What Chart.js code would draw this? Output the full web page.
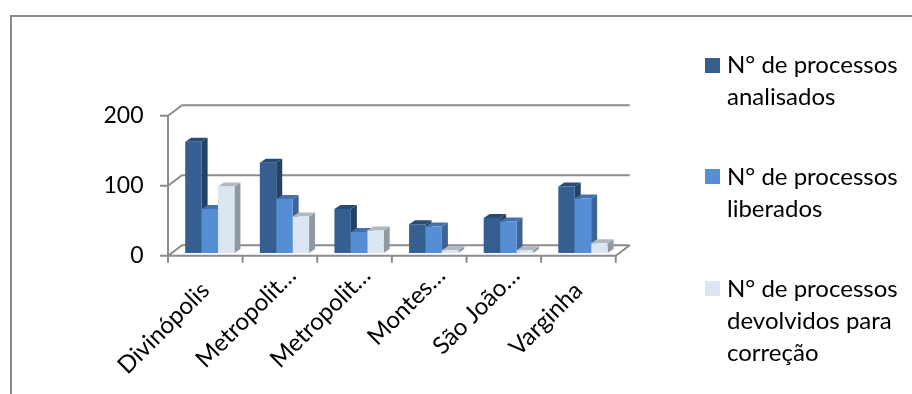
<!DOCTYPE html>
<html>
<head>
<meta charset="utf-8">
<style>html,body{margin:0;padding:0;background:#fff}canvas{display:block}</style>
<script src="https://cdn.jsdelivr.net/npm/chart.js@4"></script>
</head>
<body>
<canvas id="c" width="912" height="394"></canvas>
<script>
const categories = ['Divinópolis', 'Metropolit…', 'Metropolit…', 'Montes…', 'São João…', 'Varginha'];
const analisados = [159, 129, 63, 41, 50, 95];
const liberados = [63, 77, 30, 38, 45, 78];
const devolvidos = [95, 52, 32, 4, 4, 14];
const yTicks = [0, 100, 200];

const FONT = 'Lato';
const AXIS = '#8c8c8c';
const FRONT = ['#355f91', '#558ed5', '#dce6f2'];
const SIDE = ['#254265', '#3c6496', '#8f99a4'];
const TOP = ['#2a4a74', '#4471aa', '#b0b8c2'];
const DEPTH = {x: 6, y: 4};       // extrusion of each bar
const WALL = {x: 14, y: 10.5};    // depth of the back wall
const SHIFT = {x: 4.5, y: 2.7};   // bars stand this far inside the floor edge

function poly(ctx, pts, fill) {
  ctx.beginPath();
  pts.forEach((p, i) => i ? ctx.lineTo(p[0], p[1]) : ctx.moveTo(p[0], p[1]));
  ctx.closePath();
  ctx.fillStyle = fill;
  ctx.fill();
}

function swatch(color) {
  const c = document.createElement('canvas');
  c.width = c.height = 15;
  const g = c.getContext('2d');
  g.fillStyle = color;
  g.fillRect(0, 0, 15, 15);
  return c;
}

const frame3d = {
  id: 'frame3d',
  beforeDraw(chart) {
    const ctx = chart.ctx, {x, y} = chart.scales;
    // outer frame of the figure
    ctx.save();
    ctx.strokeStyle = '#8a8a8a';
    ctx.lineWidth = 2;
    ctx.beginPath();
    ctx.moveTo(11, 394); ctx.lineTo(11, 16); ctx.lineTo(912, 16);
    ctx.stroke();
    // walls, floor and gridlines
    const l = x.left - SHIFT.x, r = x.right - SHIFT.x;
    ctx.strokeStyle = AXIS;
    ctx.lineWidth = 2;
    ctx.beginPath();
    yTicks.forEach(v => {
      const py = y.getPixelForValue(v) + SHIFT.y;
      ctx.moveTo(l - 8, py); ctx.lineTo(l, py);
      ctx.lineTo(l + WALL.x, py - WALL.y); ctx.lineTo(r + WALL.x, py - WALL.y);
    });
    const top = y.getPixelForValue(200) + SHIFT.y, bot = y.getPixelForValue(0) + SHIFT.y;
    ctx.moveTo(l, top); ctx.lineTo(l, bot); ctx.lineTo(r, bot); ctx.lineTo(r + WALL.x, bot - WALL.y);
    const step = (r - l) / categories.length;
    for (let i = 0; i <= categories.length; i++) {
      ctx.moveTo(l + i * step, bot); ctx.lineTo(l + i * step, bot + 7);
    }
    ctx.stroke();
    ctx.restore();

    // category labels hang from a common line; shortened ones reach it, whole words stop short
    x.getLabelItems().forEach((item, i) => {
      const whole = !categories[i].endsWith('…');
      item.textOffset = 0;
      item.options.rotation = -Math.PI / 4;
      item.options.textAlign = 'right';
      item.options.textBaseline = 'alphabetic';
      item.options.translation = [x.getPixelForTick(i) + 13 - (whole ? 12 : 0), 277 + (whole ? 15 : 0)];
    });

    // the legend is parked beside the plot once the layout has settled
    const lg = chart.legend;
    lg.left = 710 - 48;
    lg.top = 53 - 48;
    lg.right = 912;
    lg.bottom = 394;
  },
  beforeDatasetsDraw(chart) {
    // side and top faces go under every front face
    const ctx = chart.ctx;
    chart.data.datasets.forEach((ds, i) => {
      chart.getDatasetMeta(i).data.forEach(b => {
        const L = b.x - b.width / 2, R = b.x + b.width / 2;
        poly(ctx, [[R, b.y], [R + DEPTH.x, b.y - DEPTH.y], [R + DEPTH.x, b.base - DEPTH.y], [R, b.base]], SIDE[i]);
        poly(ctx, [[L, b.y], [L + DEPTH.x, b.y - DEPTH.y], [R + DEPTH.x, b.y - DEPTH.y], [R, b.y]], TOP[i]);
      });
    });
  }
};

new Chart(document.getElementById('c'), {
  type: 'bar',
  data: {
    labels: categories,
    datasets: [
      {label: ['N° de processos', 'analisados'], data: analisados, backgroundColor: FRONT[0]},
      {label: ['N° de processos', 'liberados'], data: liberados, backgroundColor: FRONT[1]},
      {label: ['N° de processos', 'devolvidos para', 'correção'], data: devolvidos, backgroundColor: FRONT[2]}
    ]
  },
  plugins: [frame3d],
  options: {
    responsive: false,
    animation: false,
    datasets: {bar: {categoryPercentage: 0.66, barPercentage: 1}},
    layout: {padding: {top: 113, right: 85, left: 0, bottom: 0}},
    scales: {
      x: {
        grid: {display: false},
        border: {display: false},
        afterFit(s) { s.height = 141; },
        ticks: {
          autoSkip: false, maxRotation: 45, minRotation: 45, padding: 4,
          color: '#000', font: {family: FONT, size: 24}
        }
      },
      y: {
        min: 0, max: 200,
        grid: {display: false},
        border: {display: false},
        afterFit(s) { s.width = 172.5; },
        afterBuildTicks(s) { s.ticks = yTicks.map(v => ({value: v})); },
        ticks: {padding: 21, labelOffset: 2.7, color: '#000', font: {family: FONT, size: 23}}
      }
    },
    plugins: {
      tooltip: {enabled: false},
      legend: {
        position: 'right',
        align: 'start',
        onClick: null,
        labels: {
          usePointStyle: true, pointStyleWidth: 5, boxHeight: 15, padding: 48, color: '#000',
          font: {family: FONT, size: 24, lineHeight: 1.333},
          generateLabels(chart) {
            return Chart.defaults.plugins.legend.labels.generateLabels(chart)
              .map((it, i) => ({...it, pointStyle: swatch(FRONT[i])}));
          }
        }
      }
    }
  }
});
</script>
</body>
</html>
